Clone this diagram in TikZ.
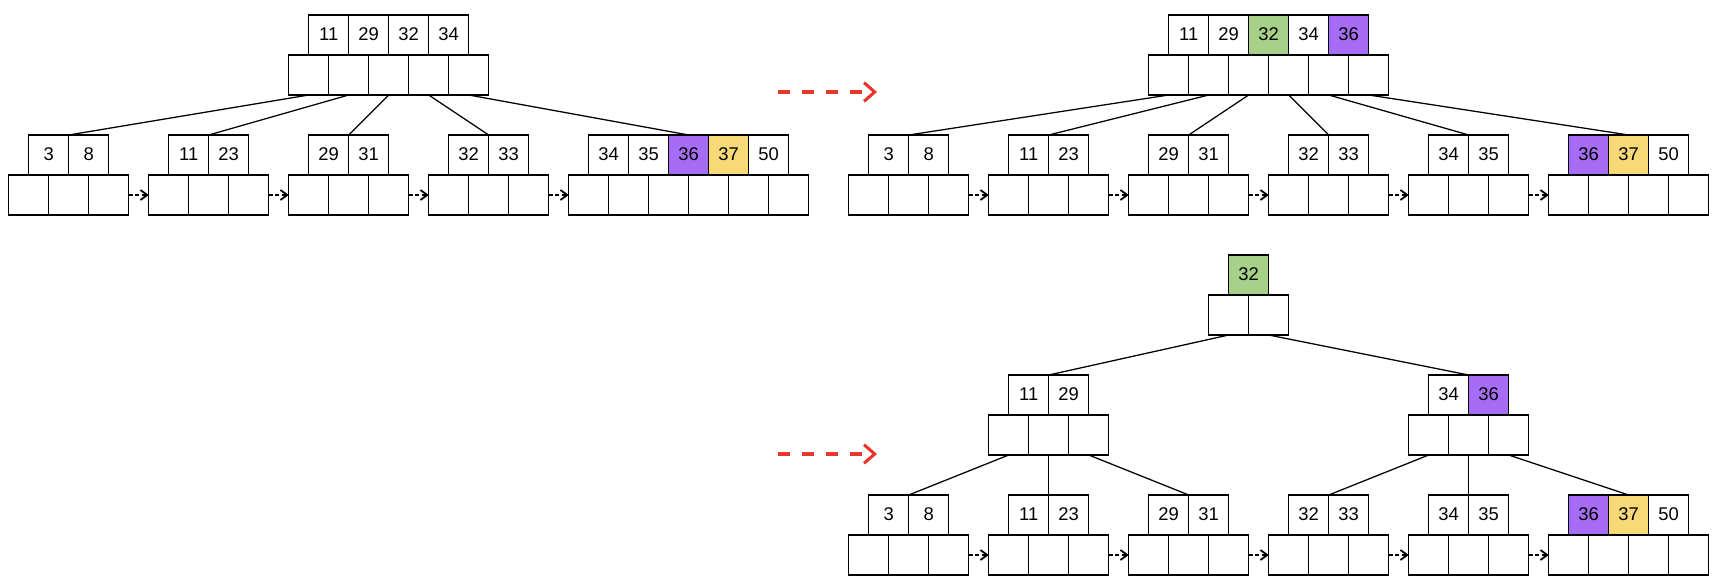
\documentclass[tikz,border=0pt]{standalone}
\usepackage{fontspec}
\setmainfont{Liberation Sans}
\usetikzlibrary{arrows.meta}
\definecolor{pur}{HTML}{A66CF5}
\definecolor{grn}{HTML}{A7D089}
\definecolor{yel}{HTML}{F7D978}
\definecolor{redarr}{HTML}{E8372A}
\tikzset{
  cellbase/.style={draw=black, line width=1.1pt, minimum width=30pt, minimum height=30pt,
    inner sep=0pt, outer sep=0pt, anchor=north west, font=\fontsize{13.8}{16}\selectfont},
  keycell/.style={cellbase},
  ptrcell/.style={cellbase, fill=white},
  conn/.style={draw=black, line width=0.95pt},
  leafarrow/.style={draw=black, line width=1.1pt, dash pattern=on 3pt off 2pt,
    -{Straight Barb[length=5pt,width=7.5pt,line width=1.4pt]}},
  bigarrow/.style={draw=redarr, line width=2.3pt, dash pattern=on 9pt off 9pt,
    -{Straight Barb[length=8pt,width=14pt,line width=2.3pt]}},
}
% #1 name, #2 left x of pointer row, #3 top y of key row, #4 keys value/colour
\newcommand\bpnode[4]{%
  \foreach [count=\i] \v/\c in {#4} {
    \node[keycell, fill=\c] (#1k\i) at ({#2+20+40*(\i-1)}, #3) {\raisebox{1pt}{\v}};
    \xdef\bpnk{\i}
  }
  \pgfmathtruncatemacro\bpnp{\bpnk+1}
  \foreach \j in {1,...,\bpnp} {
    \node[ptrcell] (#1p\j) at ({#2+40*(\j-1)}, #3+40) {};
  }
  \coordinate (#1t) at ({#2+20*\bpnp}, #3);
}
\begin{document}
\begin{tikzpicture}[x=0.75pt, y=-0.75pt]
\useasboundingbox (0,0) rectangle (1716,584);
% ---------- left tree ----------
\bpnode{T}{288.7}{15}{11/white,29/white,32/white,34/white}
\bpnode{A1}{8.7}{135}{3/white,8/white}
\bpnode{A2}{148.7}{135}{11/white,23/white}
\bpnode{A3}{288.7}{135}{29/white,31/white}
\bpnode{A4}{428.7}{135}{32/white,33/white}
\bpnode{A5}{568.7}{135}{34/white,35/white,36/pur,37/yel,50/white}
\draw[conn] (Tp1.south) -- (A1t);
\draw[conn] (Tp2.south) -- (A2t);
\draw[conn] (Tp3.south) -- (A3t);
\draw[conn] (Tp4.south) -- (A4t);
\draw[conn] (Tp5.south) -- (A5t);
\draw[leafarrow] (A1p3.east) -- (A2p1.west);
\draw[leafarrow] (A2p3.east) -- (A3p1.west);
\draw[leafarrow] (A3p3.east) -- (A4p1.west);
\draw[leafarrow] (A4p3.east) -- (A5p1.west);
% ---------- top right tree ----------
\bpnode{U}{1148.7}{15}{11/white,29/white,32/grn,34/white,36/pur}
\bpnode{B1}{848.7}{135}{3/white,8/white}
\bpnode{B2}{988.7}{135}{11/white,23/white}
\bpnode{B3}{1128.7}{135}{29/white,31/white}
\bpnode{B4}{1268.7}{135}{32/white,33/white}
\bpnode{B5}{1408.7}{135}{34/white,35/white}
\bpnode{B6}{1548.7}{135}{36/pur,37/yel,50/white}
\draw[conn] (Up1.south) -- (B1t);
\draw[conn] (Up2.south) -- (B2t);
\draw[conn] (Up3.south) -- (B3t);
\draw[conn] (Up4.south) -- (B4t);
\draw[conn] (Up5.south) -- (B5t);
\draw[conn] (Up6.south) -- (B6t);
\draw[leafarrow] (B1p3.east) -- (B2p1.west);
\draw[leafarrow] (B2p3.east) -- (B3p1.west);
\draw[leafarrow] (B3p3.east) -- (B4p1.west);
\draw[leafarrow] (B4p3.east) -- (B5p1.west);
\draw[leafarrow] (B5p3.east) -- (B6p1.west);
% ---------- bottom tree ----------
\bpnode{V}{1208.7}{255}{32/grn}
\bpnode{I1}{988.7}{375}{11/white,29/white}
\bpnode{I2}{1408.7}{375}{34/white,36/pur}
\bpnode{C1}{848.7}{495}{3/white,8/white}
\bpnode{C2}{988.7}{495}{11/white,23/white}
\bpnode{C3}{1128.7}{495}{29/white,31/white}
\bpnode{C4}{1268.7}{495}{32/white,33/white}
\bpnode{C5}{1408.7}{495}{34/white,35/white}
\bpnode{C6}{1548.7}{495}{36/pur,37/yel,50/white}
\draw[conn] (Vp1.south) -- (I1t);
\draw[conn] (Vp2.south) -- (I2t);
\draw[conn] (I1p1.south) -- (C1t);
\draw[conn] (I1p2.south) -- (C2t);
\draw[conn] (I1p3.south) -- (C3t);
\draw[conn] (I2p1.south) -- (C4t);
\draw[conn] (I2p2.south) -- (C5t);
\draw[conn] (I2p3.south) -- (C6t);
\draw[leafarrow] (C1p3.east) -- (C2p1.west);
\draw[leafarrow] (C2p3.east) -- (C3p1.west);
\draw[leafarrow] (C3p3.east) -- (C4p1.west);
\draw[leafarrow] (C4p3.east) -- (C5p1.west);
\draw[leafarrow] (C5p3.east) -- (C6p1.west);
% ---------- transition arrows ----------
\coordinate (s1) at (778,92);
\coordinate (e1) at (877,92);
\coordinate (s2) at (778,454);
\coordinate (e2) at (877,454);
\draw[bigarrow] (s1) -- (e1);
\draw[bigarrow] (s2) -- (e2);
\end{tikzpicture}
\end{document}
